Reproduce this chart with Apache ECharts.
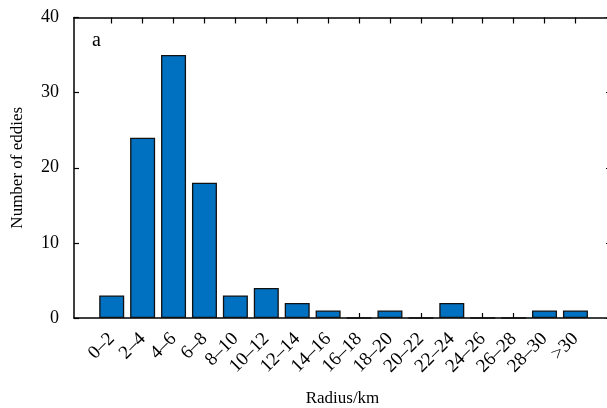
<!DOCTYPE html>
<html>
<head>
<meta charset="utf-8">
<script src="https://cdn.jsdelivr.net/npm/echarts@6/dist/echarts.min.js"></script>
<style>
  html, body { margin: 0; padding: 0; background: #fff; }
  #chart { width: 607px; height: 408px; }
</style>
</head>
<body>
<div id="chart"></div>
<script>
// Eddy radius bins (km) and number of eddies in each bin
const radiusBins = ['0–2', '2–4', '4–6', '6–8', '8–10', '10–12', '12–14', '14–16',
  '16–18', '18–20', '20–22', '22–24', '24–26', '26–28', '28–30', '>30'];
const eddyCounts = [3, 24, 35, 18, 3, 4, 2, 1, 0, 1, 0, 2, 0, 0, 1, 1];
const yTicks = [0, 10, 20, 30, 40];

const binPositions = radiusBins.map((_, i) => i);
const FONT = 'Liberation Serif';
const frame = { color: '#000', width: 1.5 };

const chart = echarts.init(document.getElementById('chart'), null, { renderer: 'canvas' });

chart.setOption({
  animation: false,
  backgroundColor: '#fff',
  // plot frame runs slightly past the right edge of the canvas
  grid: { left: 74, top: 17.5, width: 537, height: 300.5, containLabel: false, outerBoundsMode: 'none' },
  graphic: [{
    type: 'text', left: 92, top: 31,
    style: { text: 'a', fontFamily: FONT, fontSize: 20, fill: '#000' }
  }],
  xAxis: [
    {
      type: 'value', position: 'bottom',
      min: -1.22, max: 16.15,
      name: 'Radius/km', nameLocation: 'middle', nameGap: 72,
      nameTextStyle: { fontFamily: FONT, fontSize: 17, color: '#000' },
      axisLine: { show: true, onZero: false, lineStyle: frame },
      axisTick: { show: true, inside: true, length: 5, customValues: binPositions, lineStyle: { color: '#000', width: 1.2 } },
      axisLabel: {
        customValues: binPositions, rotate: 45, margin: 18,
        fontFamily: FONT, fontSize: 19, color: '#000',
        formatter: v => radiusBins[Math.round(v)]
      },
      splitLine: { show: false }
    },
    {
      type: 'value', position: 'top',
      min: -1.22, max: 16.15,
      axisLine: { show: true, onZero: false, lineStyle: frame },
      axisTick: { show: true, inside: true, length: 6, customValues: binPositions, lineStyle: { color: '#000', width: 1.2 } },
      axisLabel: { show: false },
      splitLine: { show: false }
    }
  ],
  yAxis: [
    {
      type: 'value', position: 'left', min: 0, max: 40, interval: 10,
      name: 'Number of eddies', nameLocation: 'middle', nameGap: 48,
      nameTextStyle: { fontFamily: FONT, fontSize: 17, color: '#000' },
      axisLine: { show: true, onZero: false, lineStyle: frame },
      axisTick: { show: true, inside: true, length: 5, customValues: yTicks, lineStyle: { color: '#000', width: 1.2 } },
      axisLabel: { customValues: yTicks, margin: 15, fontFamily: FONT, fontSize: 18, color: '#000' },
      splitLine: { show: false }
    },
    {
      type: 'value', position: 'right', min: 0, max: 40, interval: 10,
      axisLine: { show: true, onZero: false, lineStyle: frame },
      axisTick: { show: true, inside: true, length: 5, lineStyle: { color: '#000', width: 1.2 } },
      axisLabel: { show: false },
      splitLine: { show: false }
    }
  ],
  series: [{
    type: 'bar',
    xAxisIndex: 0, yAxisIndex: 0,
    barWidth: 25,
    data: eddyCounts.map((c, i) => [binPositions[i], c]),
    itemStyle: { color: '#0070C0', borderColor: '#111', borderWidth: 1.3 }
  }]
});
</script>
</body>
</html>
